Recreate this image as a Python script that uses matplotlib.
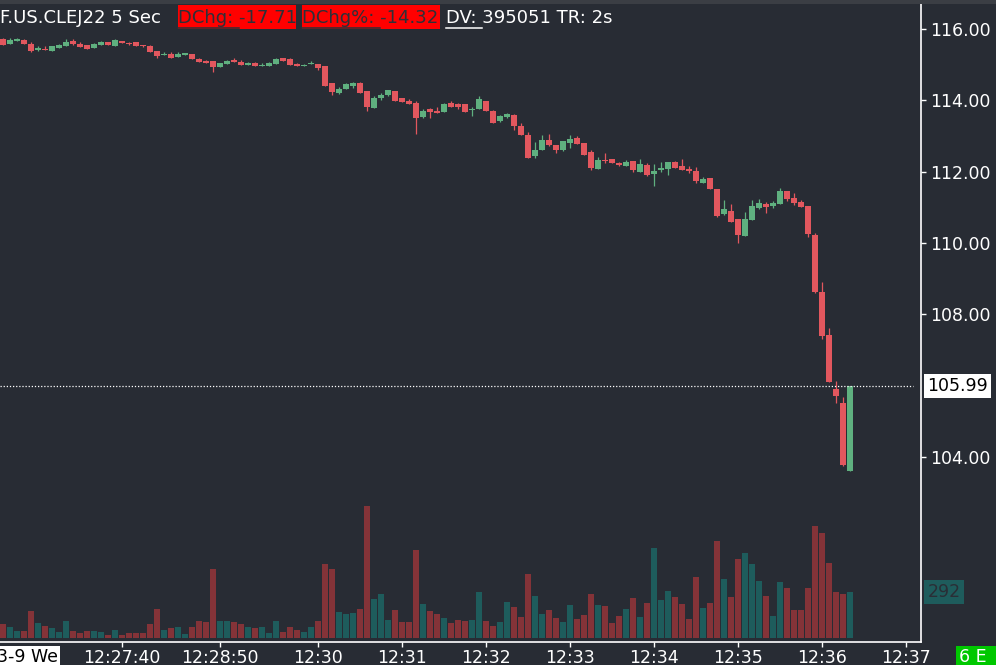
import numpy as np
import matplotlib
matplotlib.use("Agg")
import matplotlib.pyplot as plt
from matplotlib.patches import Rectangle
from matplotlib.transforms import blended_transform_factory

# 5 second OHLC bars, F.US.CLEJ22
opens = [115.72, 115.58, 115.67, 115.69, 115.58, 115.41, 115.44, 115.38, 115.46, 115.52,
         115.66, 115.58, 115.55, 115.46, 115.55, 115.63, 115.52, 115.66, 115.60, 115.63,
         115.55, 115.52, 115.38, 115.27, 115.30, 115.21, 115.27, 115.30, 115.16, 115.10,
         115.10, 114.93, 115.01, 115.13, 115.07, 114.99, 115.04, 114.96, 114.96, 115.01,
         115.18, 115.16, 115.01, 114.96, 115.01, 115.01, 114.96, 114.48, 114.20, 114.31,
         114.40, 114.48, 114.26, 113.78, 114.06, 114.15, 114.26, 114.06, 113.98, 113.92,
         113.53, 113.75, 113.70, 113.67, 113.92, 113.89, 113.89, 113.73, 113.75, 113.98,
         113.70, 113.41, 113.53, 113.58, 113.28, 113.02, 112.44, 112.60, 112.88, 112.74,
         112.60, 112.80, 112.94, 112.80, 112.54, 112.07, 112.32, 112.35, 112.24, 112.15,
         112.29, 111.98, 112.18, 111.93, 112.04, 112.07, 112.27, 112.15, 112.07, 112.01,
         111.68, 111.82, 111.51, 110.81, 110.89, 110.67, 110.19, 110.64, 110.98, 111.09,
         111.03, 111.09, 111.46, 111.26, 111.14, 111.03, 110.23, 108.63, 107.43, 105.92,
         105.52, 103.62]
highs = [115.74, 115.74, 115.74, 115.72, 115.63, 115.52, 115.52, 115.52, 115.58, 115.72,
         115.72, 115.63, 115.55, 115.60, 115.66, 115.63, 115.72, 115.66, 115.63, 115.63,
         115.55, 115.55, 115.38, 115.35, 115.35, 115.35, 115.34, 115.30, 115.18, 115.13,
         115.10, 115.04, 115.13, 115.18, 115.13, 115.07, 115.07, 115.04, 115.07, 115.18,
         115.18, 115.18, 115.04, 115.01, 115.10, 115.01, 114.96, 114.48, 114.37, 114.48,
         114.51, 114.51, 114.26, 114.12, 114.20, 114.29, 114.26, 114.06, 114.04, 113.98,
         113.75, 113.78, 113.81, 113.92, 113.98, 113.92, 113.89, 113.81, 114.12, 113.98,
         113.73, 113.58, 113.64, 113.61, 113.36, 113.11, 112.83, 113.02, 113.05, 112.74,
         112.86, 113.02, 112.99, 112.80, 112.60, 112.41, 112.52, 112.35, 112.27, 112.32,
         112.29, 112.35, 112.24, 112.21, 112.27, 112.27, 112.29, 112.35, 112.15, 112.12,
         111.84, 111.82, 111.51, 111.20, 111.09, 110.67, 110.87, 111.20, 111.23, 111.14,
         111.17, 111.54, 111.46, 111.40, 111.20, 111.03, 110.29, 108.91, 107.62, 106.14,
         105.69, 105.99]
lows = [115.55, 115.58, 115.67, 115.58, 115.35, 115.38, 115.42, 115.38, 115.46, 115.52,
        115.55, 115.49, 115.44, 115.46, 115.55, 115.55, 115.52, 115.60, 115.55, 115.52,
        115.50, 115.35, 115.18, 115.27, 115.18, 115.21, 115.27, 115.16, 115.07, 115.04,
        114.79, 114.93, 115.01, 115.07, 114.99, 114.99, 114.96, 114.96, 114.96, 115.01,
        115.10, 114.99, 114.96, 114.96, 115.01, 114.85, 114.40, 114.15, 114.17, 114.31,
        114.34, 114.20, 113.70, 113.78, 114.01, 114.12, 113.98, 113.95, 113.89, 113.05,
        113.50, 113.50, 113.64, 113.67, 113.81, 113.75, 113.67, 113.56, 113.75, 113.70,
        113.36, 113.39, 113.50, 113.16, 113.02, 112.38, 112.38, 112.60, 112.72, 112.52,
        112.57, 112.66, 112.77, 112.46, 112.04, 112.07, 112.24, 112.24, 112.15, 112.15,
        111.98, 111.98, 111.87, 111.59, 111.98, 111.90, 112.10, 112.04, 111.96, 111.68,
        111.68, 111.51, 110.72, 110.78, 110.59, 110.00, 110.19, 110.64, 110.95, 110.84,
        110.98, 111.09, 111.17, 111.06, 111.01, 110.17, 108.60, 107.32, 106.11, 105.52,
        103.76, 103.62]
closes = [115.55, 115.69, 115.72, 115.58, 115.38, 115.48, 115.42, 115.52, 115.55, 115.63,
          115.58, 115.49, 115.44, 115.58, 115.63, 115.55, 115.69, 115.60, 115.58, 115.52,
          115.52, 115.35, 115.24, 115.30, 115.18, 115.30, 115.32, 115.16, 115.07, 115.04,
          114.93, 115.04, 115.10, 115.07, 114.99, 115.04, 114.96, 114.99, 115.04, 115.16,
          115.10, 114.99, 114.96, 114.99, 115.04, 114.90, 114.40, 114.23, 114.31, 114.45,
          114.48, 114.20, 113.81, 114.06, 114.15, 114.29, 113.98, 113.95, 113.89, 113.50,
          113.70, 113.67, 113.64, 113.89, 113.81, 113.81, 113.67, 113.75, 114.04, 113.70,
          113.36, 113.56, 113.61, 113.28, 113.02, 112.38, 112.60, 112.88, 112.74, 112.60,
          112.86, 112.91, 112.77, 112.46, 112.10, 112.32, 112.29, 112.24, 112.18, 112.27,
          112.04, 112.21, 111.90, 112.01, 112.10, 112.27, 112.10, 112.04, 112.01, 111.73,
          111.79, 111.51, 110.75, 110.95, 110.59, 110.22, 110.67, 111.03, 111.12, 111.01,
          111.12, 111.46, 111.23, 111.12, 111.01, 110.25, 108.63, 107.40, 106.11, 105.72,
          103.79, 105.99]
volumes = [87, 68, 42, 42, 169, 93, 74, 61, 36, 106,
           42, 30, 42, 42, 36, 17, 49, 17, 30, 30,
           30, 87, 182, 49, 61, 68, 23, 68, 106, 99,
           436, 106, 106, 99, 87, 68, 61, 68, 30, 106,
           36, 68, 49, 36, 68, 106, 468, 442, 163, 150,
           157, 182, 842, 245, 277, 112, 176, 99, 99, 563,
           214, 169, 150, 125, 93, 112, 106, 112, 290, 106,
           74, 99, 226, 195, 131, 404, 265, 150, 176, 125,
           99, 207, 118, 144, 277, 207, 201, 93, 138, 182,
           252, 131, 220, 576, 239, 296, 258, 214, 118, 385,
           188, 220, 620, 372, 258, 506, 544, 474, 360, 265,
           138, 353, 315, 176, 176, 315, 715, 671, 480, 290,
           277, 292]

start_time = "12:26:15"
bar_seconds = 5
tick_times = ["12:27:40", "12:28:50", "12:30", "12:31", "12:32", "12:33",
              "12:34", "12:35", "12:36", "12:37"]
price_ticks = [104, 108, 110, 112, 114, 116]

BG = "#282c34"
UP = "#5fb07f"
DOWN = "#e2575e"
VUP = "#1e5c5c"
VDOWN = "#843338"
W, H = 996, 665


def secs(s):
    parts = [int(p) for p in s.split(":")]
    while len(parts) < 3:
        parts.append(0)
    return parts[0] * 3600 + parts[1] * 60 + parts[2]


def fx(x):
    return x / W


def fy(y):
    return 1 - y / H


fig = plt.figure(figsize=(W / 100, H / 100), dpi=100, facecolor=BG)
renderer = fig.canvas.get_renderer()

rect = [0, fy(642), fx(921), (642 - 4) / H]
axv = fig.add_axes(rect, facecolor=BG)
ax = fig.add_axes(rect, facecolor="none")

o = np.array(opens)
h = np.array(highs)
l = np.array(lows)
c = np.array(closes)
x = np.arange(len(c))
up = c >= o

# volume pane
axv.bar(x, volumes, width=0.86, color=np.where(up, VUP, VDOWN), linewidth=0)
axv.set_ylim(-27.5, 4050)
axv.set_xlim(-3 / 7, 918 / 7)
axv.axis("off")

# candles
col = np.where(up, UP, DOWN)
ax.vlines(x, l, h, color=col, linewidth=0.9)
body = np.maximum(np.abs(c - o), 0.03)
ax.bar(x, body, bottom=np.minimum(o, c), width=0.72, color=col, linewidth=0)

ax.set_xlim(-3 / 7, 918 / 7)
ax.set_ylim(98.815, 116.70)

for s in ["left", "top"]:
    ax.spines[s].set_visible(False)
for s in ["right", "bottom"]:
    ax.spines[s].set_color("white")
    ax.spines[s].set_linewidth(1.2)

ax.yaxis.tick_right()
ax.set_yticks(price_ticks)
ax.set_yticklabels([f"{p:.2f}" for p in price_ticks])
t0 = secs(start_time)
ax.set_xticks([(secs(t) - t0) / bar_seconds for t in tick_times])
ax.set_xticklabels(tick_times)
ax.tick_params(colors="white", labelsize=12.5, length=3.5, width=1)
ax.tick_params(axis="x", pad=1.5)
ax.tick_params(axis="y", pad=3)

# last price line and labels
last = closes[-1]
ax.axhline(last, xmin=0, xmax=913 / 921, color="white", linewidth=0.9,
           linestyle=(0, (1, 1.5)))
tr = blended_transform_factory(ax.transAxes, ax.transData)
ax.text(1.007, last, f"{last:.2f}", transform=tr, color="black", fontsize=12.5,
        va="center", ha="left",
        bbox=dict(boxstyle="square,pad=0.18", facecolor="white", edgecolor="none"))
trv = blended_transform_factory(axv.transAxes, axv.transData)
axv.text(1.007, volumes[-1], f"{volumes[-1]}", transform=trv, color="#2a2e36",
         fontsize=12.5, va="center", ha="left", clip_on=False,
         bbox=dict(boxstyle="square,pad=0.18", facecolor=VUP, edgecolor="none"))

# top strip
fig.add_artist(Rectangle((0, fy(4)), 1, 4 / H, transform=fig.transFigure,
                         facecolor="#3b3e44", edgecolor="none"))

# header
def underline(t, text):
    tmp = fig.text(0, 0, text, fontsize=13)
    w = tmp.get_window_extent(renderer).width
    tmp.remove()
    bb = t.get_window_extent(renderer)
    fig.add_artist(plt.Line2D([bb.x0 / W, (bb.x0 + w) / W], [fy(28), fy(28)],
                              transform=fig.transFigure, color=t.get_color(),
                              linewidth=1.1))


fig.text(fx(0), fy(18), "F.US.CLEJ22 5 Sec", color="white", fontsize=13, va="center")
fig.add_artist(Rectangle((fx(178), fy(29)), 118 / W, 24 / H, transform=fig.transFigure,
                         facecolor="#ff0000", edgecolor="none"))
fig.add_artist(Rectangle((fx(302), fy(29)), 138 / W, 24 / H, transform=fig.transFigure,
                         facecolor="#ff0000", edgecolor="none"))
t1 = fig.text(fx(178), fy(18), "DChg: -17.71", color="#2e3038", fontsize=13, va="center")
underline(t1, "DChg: ")
t2 = fig.text(fx(302), fy(18), "DChg%: -14.32", color="#2e3038", fontsize=13, va="center")
underline(t2, "DChg%: ")
t3 = fig.text(fx(446), fy(18), "DV: 395051 TR: 2s", color="white", fontsize=13, va="center")
underline(t3, "DV: ")

# bottom corner labels
fig.add_artist(Rectangle((0, 0), 60 / W, 19 / H, transform=fig.transFigure,
                         facecolor="white", edgecolor="none"))
fig.text(fx(-3), fy(657), "3-9 We", color="black", fontsize=12.5, va="center")
fig.add_artist(Rectangle((fx(956), 0), 40 / W, 19 / H, transform=fig.transFigure,
                         facecolor="#00c800", edgecolor="none"))
fig.text(fx(959), fy(657), "6 E", color="white", fontsize=12.5, va="center")

fig.savefig("out.png", dpi=100, facecolor=BG)
